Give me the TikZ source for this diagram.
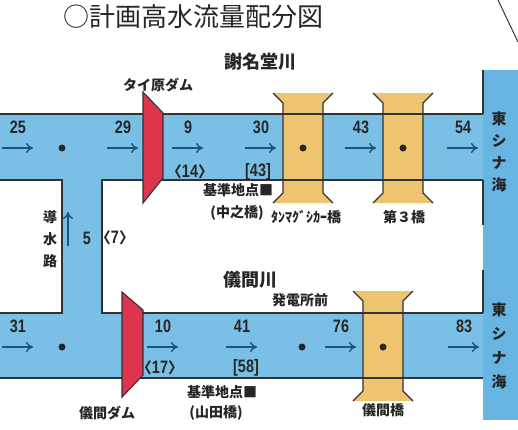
\documentclass[tikz,border=0pt]{standalone}
\usepackage{fontspec}
\setmainfont{Noto Sans CJK JP}
\newfontfamily\numfont[FakeStretch=0.8]{Liberation Sans}
\newfontfamily\brfont[RawFeature=+halt]{Noto Sans CJK JP}
\usetikzlibrary{arrows.meta}

\newcommand{\lbra}{{\brfont\fontsize{15}{15}\selectfont 〈}}
\newcommand{\rbra}{{\brfont\fontsize{15}{15}\selectfont 〉}}

\definecolor{river}{RGB}{122,192,230}
\definecolor{sea}{RGB}{104,180,226}
\definecolor{damred}{RGB}{222,52,78}
\definecolor{bridge}{RGB}{238,196,110}
\definecolor{bankline}{RGB}{50,50,50}
\definecolor{arrowc}{RGB}{30,85,115}

\tikzset{
    bank/.style={draw=bankline, line width=1.1pt},
    flow/.style={arrowc, line width=1.4pt, -{To[length=7pt,width=10pt]}},
    num/.style={font=\numfont\bfseries\fontsize{18}{18}\selectfont, text=black!85, inner sep=0pt},
    lab/.style={font=\bfseries\fontsize{14}{14}\selectfont, text=black!85, inner sep=0pt},
    rivername/.style={font=\bfseries\fontsize{18}{18}\selectfont, text=black!85, inner sep=0pt},
    dot/.style={circle, fill=black!85, inner sep=0pt, minimum size=7pt}
}

\begin{document}
\begin{tikzpicture}[x=1pt, y=-1pt]

        \useasboundingbox (0,0) rectangle (518,429);

        % Water: rivers, channel and sea
        \fill[river] (0,114) rectangle (483,180);
        \fill[river] (62,180) rectangle (102,313);
        \fill[river] (0,313) rectangle (483,378);
        \fill[sea] (483,70) rectangle (518,420);

        % Bridges (fill)
        \foreach \cx/\cy in {303/148, 403/148, 383/346}
            \fill[bridge] (\cx-30,\cy-55) -- (\cx+30,\cy-55) -- (\cx+20,\cy-45)
                -- (\cx+20,\cy+45) -- (\cx+30,\cy+55) -- (\cx-30,\cy+55)
                -- (\cx-20,\cy+45) -- (\cx-20,\cy-45) -- cycle;

        % River banks
        \draw[bank] (0,114) -- (483,114);
        \draw[bank] (0,180) -- (62,180) -- (62,313) -- (0,313);
        \draw[bank] (483,180) -- (102,180) -- (102,313) -- (483,313);
        \draw[bank] (0,378) -- (483,378);
        \draw[bank] (483,70) -- (483,114);
        \draw[bank] (483,180) -- (483,225);
        \draw[bank] (483,270) -- (483,313);

        % Bridges (outline)
        \foreach \cx/\cy in {303/148, 403/148, 383/346} {
            \draw[bank] (\cx-30,\cy-55) -- (\cx-20,\cy-45) -- (\cx-20,\cy+45) -- (\cx-30,\cy+55);
            \draw[bank] (\cx+30,\cy-55) -- (\cx+20,\cy-45) -- (\cx+20,\cy+45) -- (\cx+30,\cy+55);
        }

        % Dams
        \draw[bank, fill=damred] (143,92) -- (163,113) -- (163,178) -- (143,203) -- cycle;
        \draw[bank, fill=damred] (122,292) -- (143,310) -- (143,375) -- (122,397) -- cycle;

        % Points
        \node[dot] (p_1) at (62,148) {};
        \node[dot] (p_2) at (303,148) {};
        \node[dot] (p_3) at (403,148) {};
        \node[dot] (p_4) at (62,347) {};
        \node[dot] (p_5) at (302,347) {};
        \node[dot] (p_6) at (383,347) {};

        % Flow arrows and discharges
        \foreach \n/\xa/\y/\v in {1/2/148/25, 2/107/148/29, 3/172/148/9, 4/245/148/30,
                                  5/345/148/43, 6/447/148/54, 7/2/347/31, 8/147/347/10,
                                  9/226/347/41, 10/325/347/76, 11/448/347/83} {
            \coordinate (f_\n a) at (\xa,\y);
            \coordinate (f_\n b) at (\xa+31,\y);
            \draw[flow] (f_\n a) -- (f_\n b);
            \node[num] (q_\n) at (\xa+16,\y-21) {\v};
        }
        \coordinate (f_0a) at (68,246);
        \coordinate (f_0b) at (68,212);
        \draw[flow] (f_0a) -- (f_0b);
        \node[num] (q_0) at (87,238) {5};

        % Bracketed values
        \node[num] (c_1) at (190,172) {\lbra 14\rbra};
        \node[num] (c_2) at (258,172) {[43]};
        \node[num] (c_3) at (115,238) {\lbra 7\rbra};
        \node[num] (c_4) at (160,368) {\lbra 17\rbra};
        \node[num] (c_5) at (246,368) {[58]};

        % Labels
        \node[font=\fontsize{26}{26}\selectfont, text=black!85, inner sep=0pt] (title) at (193,17) {○計画高水流量配分図};
        \node[rivername] (r_1) at (260,62) {謝名堂川};
        \node[rivername] (r_2) at (250,280) {儀間川};
        \node[lab] (l_d1) at (158,85) {タイ原ダム};
        \node[lab] (l_k1) at (238,190) {基準地点■};
        \node[lab] (l_k1b) at (237,213) {(中之橋)};
        \node[lab] (l_b1) at (306,217) {ﾀﾝﾏｸﾞｼｶｰ橋};
        \node[lab] (l_b2) at (404,217) {第３橋};
        \node[lab] (l_pw) at (300,300) {発電所前};
        \node[lab] (l_d2) at (107,413) {儀間ダム};
        \node[lab] (l_k2) at (222,392) {基準地点■};
        \node[lab] (l_k2b) at (216,413) {(山田橋)};
        \node[lab] (l_b3) at (383,410) {儀間橋};
        \node[lab, align=center, font=\bfseries\fontsize{14}{22}\selectfont] (l_ch) at (50,239) {導\\水\\路};
        \node[lab, align=center, font=\bfseries\fontsize{15}{22}\selectfont] (sea_1) at (499,152) {東\\シ\\ナ\\海};
        \node[lab, align=center, font=\bfseries\fontsize{15}{24}\selectfont] (sea_2) at (499,346) {東\\シ\\ナ\\海};

        % Page edge
        \draw[black!80, line width=1pt] (498,0) -- (518,42);
\end{tikzpicture}
\end{document}
